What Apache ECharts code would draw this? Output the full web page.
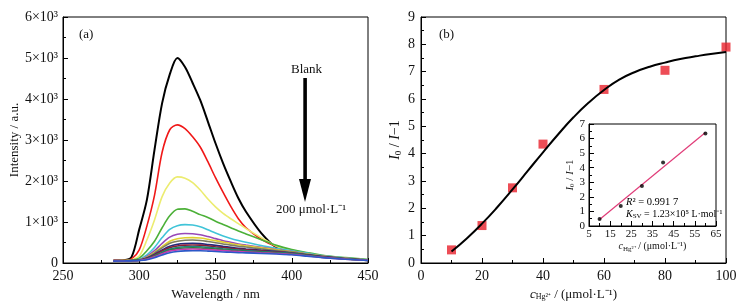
<!DOCTYPE html>
<html>
<head>
<meta charset="utf-8">
<script src="https://cdn.jsdelivr.net/npm/echarts@6/dist/echarts.min.js"></script>
<style>
  html, body { margin: 0; padding: 0; background: #fff; }
  #chart { width: 751px; height: 304px; }
</style>
</head>
<body>
<div id="chart"></div>
<script>
// (a) fluorescence spectra, sampled wavelengths
const wavelength = [283, 290, 295, 300, 305, 310, 315, 320, 325, 330, 335, 340, 345, 350, 355, 360, 365, 370, 380, 390, 400, 410, 420, 435, 450]
const specBlank = [60, 70, 150, 820, 1540, 2760, 3900, 4600, 5000, 4780, 4390, 3970, 3450, 2920, 2430, 1990, 1580, 1250, 730, 380, 270, 200, 150, 105, 70]
const specRed = [60, 65, 100, 320, 900, 1650, 2700, 3250, 3370, 3280, 3080, 2830, 2470, 2080, 1720, 1380, 1080, 860, 580, 400, 290, 210, 155, 110, 78]
const specYellow = [55, 60, 80, 170, 560, 1050, 1620, 1950, 2100, 2070, 1960, 1780, 1560, 1370, 1210, 1080, 960, 840, 620, 410, 300, 230, 170, 120, 80]
const specGreen = [55, 60, 70, 120, 300, 530, 860, 1150, 1310, 1320, 1260, 1180, 1110, 1020, 940, 860, 780, 710, 570, 430, 330, 255, 190, 130, 82]
const specCyan = [50, 55, 60, 90, 200, 380, 620, 820, 910, 935, 925, 885, 810, 730, 660, 600, 550, 505, 425, 360, 300, 240, 180, 122, 80]
const specPurple = [50, 55, 60, 80, 160, 300, 480, 630, 700, 720, 715, 690, 645, 595, 545, 505, 465, 435, 382, 330, 280, 222, 170, 115, 75]
const specGold = [50, 55, 60, 75, 140, 260, 400, 530, 590, 615, 620, 610, 580, 545, 510, 475, 445, 420, 370, 320, 275, 220, 170, 115, 75]
const specOlive = [50, 55, 60, 72, 130, 240, 370, 480, 530, 555, 560, 550, 525, 495, 465, 435, 410, 390, 345, 305, 265, 215, 165, 112, 72]
const specNavy = [48, 52, 58, 70, 120, 210, 320, 410, 455, 475, 480, 472, 452, 430, 405, 382, 360, 342, 310, 280, 245, 200, 155, 105, 70]
const specWine = [48, 52, 57, 68, 110, 195, 295, 375, 415, 435, 440, 435, 418, 398, 378, 358, 340, 325, 295, 268, 237, 195, 150, 102, 68]
const specTeal = [47, 51, 56, 66, 100, 175, 265, 340, 378, 395, 400, 395, 382, 365, 348, 332, 318, 305, 280, 256, 228, 188, 145, 100, 66]
const specDkGreen = [47, 51, 55, 64, 95, 165, 245, 315, 350, 365, 370, 366, 355, 340, 325, 311, 298, 287, 265, 245, 220, 182, 141, 98, 65]
const specMagenta = [46, 50, 54, 62, 90, 150, 225, 290, 320, 335, 340, 337, 327, 315, 302, 290, 280, 270, 250, 232, 210, 175, 137, 95, 64]
const specBlue = [46, 50, 53, 60, 80, 130, 195, 250, 280, 295, 300, 298, 290, 280, 270, 262, 254, 247, 233, 218, 200, 167, 131, 91, 62]

// (b) quenching ratio vs Hg2+ concentration
const concX = [10, 20, 30, 40, 60, 80, 100]
const ratioY = [0.48, 1.37, 2.75, 4.35, 6.35, 7.05, 7.9]
const fitX = [10, 15, 20, 25, 30, 35, 40, 45, 50, 55, 60, 65, 70, 75, 80, 85, 90, 95, 100]
const fitY = [0.42, 0.9, 1.44, 2.04, 2.69, 3.37, 4.05, 4.71, 5.33, 5.87, 6.33, 6.71, 6.98, 7.18, 7.33, 7.46, 7.56, 7.65, 7.72]
// inset: linear range
const insetX = [10, 20, 30, 40, 60]
const insetY = [0.48, 1.37, 2.75, 4.35, 6.35]
const insetLineX = [10, 60]
const insetLineY = [0.45, 6.42]

const FONT = "'Liberation Serif', 'Times New Roman', serif"
const spectra = [specBlank, specRed, specYellow, specGreen, specCyan, specPurple, specGold, specOlive,
  specNavy, specWine, specTeal, specDkGreen, specMagenta, specBlue]
const specColors = ['#000000', '#f01818', '#ecec70', '#4cb038', '#40c4d8', '#9848b8', '#e0d030', '#7c7c60',
  '#24287c', '#8c1c34', '#1c8080', '#2c7c3c', '#c83cb0', '#2c58c8']

const myChart = echarts.init(document.getElementById('chart'))

// common axis settings (ticks inside, serif labels)
const axisBase = (min, max, interval, fontSize, margin) => ({
  type: 'value',
  min: min,
  max: max,
  interval: interval,
  axisLine: { show: true, onZero: false, lineStyle: { color: '#000', width: 1 } },
  axisTick: { show: true, inside: true, length: 5, lineStyle: { color: '#000' } },
  minorTick: { show: true, splitNumber: 2, length: 3, lineStyle: { color: '#000' } },
  splitLine: { show: false },
  axisLabel: { color: '#111', fontFamily: FONT, fontSize: fontSize, margin: margin }
})

const richStyle = (size) => ({
  n: { fontFamily: FONT, fontSize: size, color: '#111' },
  i: { fontFamily: FONT, fontSize: size, fontStyle: 'italic', color: '#111' },
  s: { fontFamily: FONT, fontSize: Math.round(size * 0.65), color: '#111', padding: [size * 0.45, 0, 0, 0] }
})
const nameStyle = (size) => ({
  color: '#111',
  fontFamily: FONT,
  fontSize: size,
  rich: richStyle(size)
})

const gridBase = { show: true, borderColor: '#000', borderWidth: 1, containLabel: false, outerBoundsMode: 'none' }
const concName = '{i|c}{s|Hg²⁺}{n| / (μmol·L⁻¹)}'
const ratioName = '{i|I}{s|0}{n| / }{i|I}{n|−1}'

const option = {
  animation: false,
  backgroundColor: '#fff',
  grid: [
    Object.assign({ left: 63, top: 17, width: 305, height: 246 }, gridBase),
    Object.assign({ left: 421, top: 17, width: 305, height: 246 }, gridBase),
    Object.assign({ left: 589, top: 124, width: 127, height: 102, backgroundColor: '#fff' }, gridBase)
  ],
  xAxis: [
    Object.assign(axisBase(250, 450, 50, 14, 6), {
      gridIndex: 0, name: 'Wavelength / nm', nameLocation: 'middle', nameGap: 22, nameTextStyle: nameStyle(13)
    }),
    Object.assign(axisBase(0, 100, 20, 14, 6), {
      gridIndex: 1, name: concName, nameLocation: 'middle', nameGap: 21, nameTextStyle: nameStyle(13)
    }),
    Object.assign(axisBase(5, 65, 10, 11, 3), {
      gridIndex: 2, name: concName, nameLocation: 'middle', nameGap: 15, nameTextStyle: nameStyle(10)
    })
  ],
  yAxis: [
    Object.assign(axisBase(0, 6000, 1000, 14, 5), {
      gridIndex: 0, name: 'Intensity / a.u.', nameLocation: 'middle', nameGap: 40, nameTextStyle: nameStyle(13)
    }),
    Object.assign(axisBase(0, 9, 1, 14, 6), {
      gridIndex: 1, name: ratioName, nameLocation: 'middle', nameGap: 18, nameTextStyle: nameStyle(14)
    }),
    Object.assign(axisBase(0, 7, 1, 11, 4), {
      gridIndex: 2, name: ratioName, nameLocation: 'middle', nameGap: 13, nameTextStyle: nameStyle(11)
    })
  ],
  series: [],
  graphic: [
    { type: 'text', left: 79, top: 28, style: { text: '(a)', font: '13px ' + FONT, fill: '#111' } },
    { type: 'text', left: 439, top: 28, style: { text: '(b)', font: '13px ' + FONT, fill: '#111' } },
    { type: 'text', left: 291, top: 63, style: { text: 'Blank', font: '13px ' + FONT, fill: '#111' } },
    { type: 'rect', shape: { x: 303.3, y: 78, width: 3.6, height: 104 }, style: { fill: '#000' } },
    { type: 'polygon', shape: { points: [[299, 179], [311, 179], [305, 202]] }, style: { fill: '#000' } },
    { type: 'text', left: 276, top: 203, style: { text: '200 μmol·L⁻¹', font: '13px ' + FONT, fill: '#111' } },
    {
      type: 'text', left: 626, top: 197,
      style: { text: '{i|R}{n|² = 0.991 7}', rich: richStyle(10.5) }
    },
    {
      type: 'text', left: 626, top: 209,
      style: { text: '{i|K}{s|SV}{n| = 1.23×10⁵ L·mol⁻¹}', rich: richStyle(10) }
    }
  ]
}
// 左图 y 轴刻度写成 n×10³
option.yAxis[0].axisLabel.formatter = (v) => (v === 0 ? '0' : v / 1000 + '×10³')

// spectra (a)
spectra.forEach((vals, idx) => {
  option.series.push({
    type: 'line',
    xAxisIndex: 0,
    yAxisIndex: 0,
    data: wavelength.map((w, i) => [w, vals[i]]),
    smooth: 0.3,
    showSymbol: false,
    silent: true,
    lineStyle: { color: specColors[idx], width: idx === 0 ? 2 : 1.6 },
    z: 2 + idx
  })
})

// (b) fitting curve + data points
option.series.push({
  type: 'line', xAxisIndex: 1, yAxisIndex: 1,
  data: fitX.map((x, i) => [x, fitY[i]]),
  smooth: 0.5, showSymbol: false,
  lineStyle: { color: '#000', width: 2 }
})
option.series.push({
  type: 'scatter', xAxisIndex: 1, yAxisIndex: 1,
  data: concX.map((x, i) => [x, ratioY[i]]),
  symbol: 'rect', symbolSize: 9,
  itemStyle: { color: '#e8202c' }
})

// inset: linear fit + points
option.series.push({
  type: 'line', xAxisIndex: 2, yAxisIndex: 2,
  data: insetLineX.map((x, i) => [x, insetLineY[i]]),
  showSymbol: false,
  lineStyle: { color: '#e03c78', width: 1.2 },
  z: 5
})
option.series.push({
  type: 'scatter', xAxisIndex: 2, yAxisIndex: 2,
  data: insetX.map((x, i) => [x, insetY[i]]),
  symbol: 'circle', symbolSize: 4,
  itemStyle: { color: '#000' },
  z: 6
})

myChart.setOption(option)
</script>
</body>
</html>
